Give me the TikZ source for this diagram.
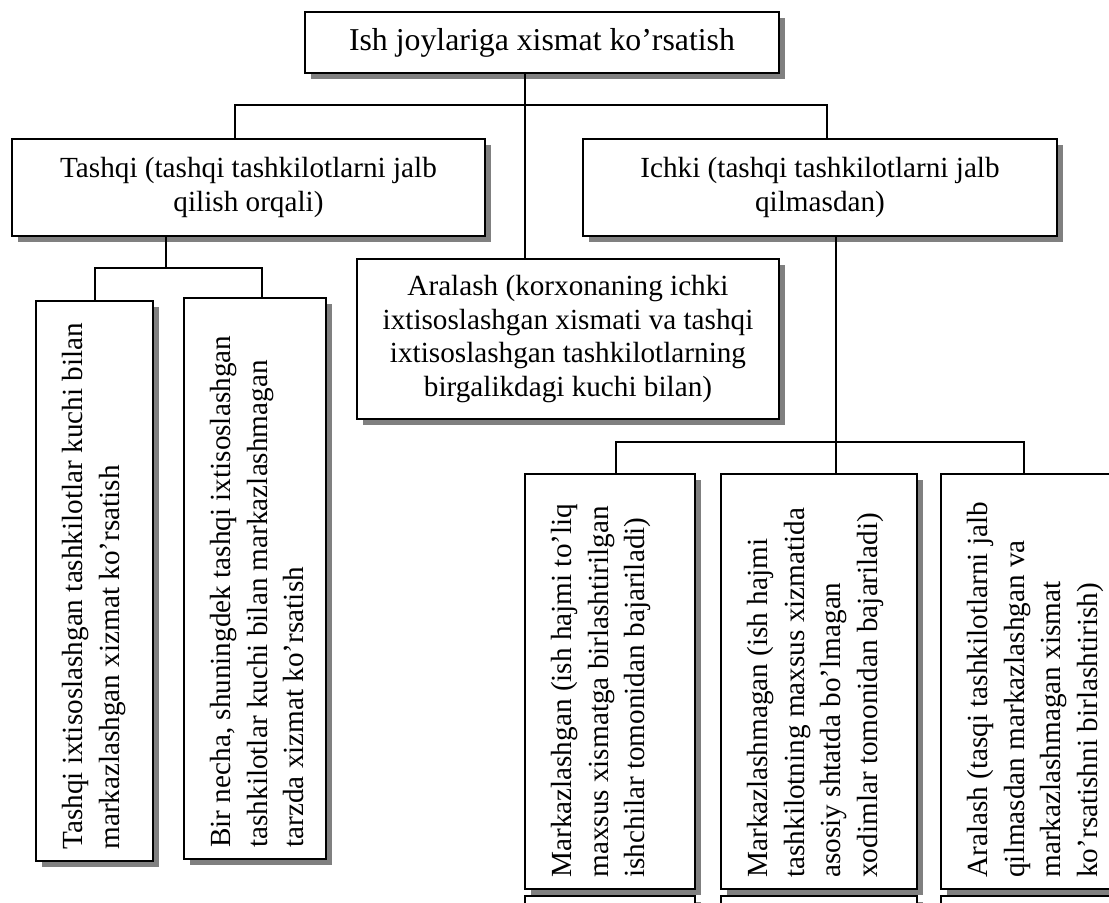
\documentclass[tikz,border=0pt]{standalone}
\usepackage{fontspec}
\setmainfont{Liberation Serif}
\usetikzlibrary{fit,shadows}

\newcommand\diagbody{\fontsize{14.6}{16.8}\selectfont}
\newcommand\diagvert{\fontsize{14.6}{18.3}\selectfont}
\newcommand\diagtitle{\fontsize{15.9}{18}\selectfont}

\tikzset{
  box/.style={draw=black, line width=1pt, fill=white, inner sep=0pt,
    drop shadow={shadow xshift=3pt, shadow yshift=-3pt, fill=black!50, opacity=1}},
  conn/.style={draw=black, line width=0.7pt},
  hlbl/.style={align=center, font=\diagbody, inner sep=0pt},
  % rotated labels: the shifts act in the rotated frame
  % (xshift runs up the page, negative yshift runs to the right)
  vlbl/.style={rotate=90, align=left, font=\diagvert, inner sep=0pt,
    anchor=north west, xshift=6pt, yshift=-13.5pt},
}

\begin{document}
\begin{tikzpicture}[x=0.5pt, y=-0.5pt]
  \useasboundingbox (0,0) rectangle (1109,902);
  \clip (0,0) rectangle (1109,902);

  % upper level boxes
  \node[box, fit={(305,12) (779,73)}] (top) {};
  \node[hlbl, font=\diagtitle] (toptxt) at (top.center) {Ish joylariga xismat ko’rsatish};

  \node[box, fit={(12,139) (485,236)}] (tash) {};
  \node[hlbl] (tashtxt) at (tash.center) {Tashqi (tashqi tashkilotlarni jalb\\qilish orqali)};

  \node[box, fit={(583,139) (1057,236)}] (ichki) {};
  \node[hlbl] (ichkitxt) at (ichki.center) {Ichki (tashqi tashkilotlarni jalb\\qilmasdan)};

  \node[box, fit={(357,259) (779,419)}] (aral) {};
  \node[hlbl] (araltxt) at (aral.center) {Aralash (korxonaning ichki\\ixtisoslashgan xismati va tashqi\\ixtisoslashgan tashkilotlarning\\birgalikdagi kuchi bilan)};

  % external service variants
  \node[box, fit={(36,301) (153,861)}] (ta) {};
  \node[vlbl] (tatxt) at (ta.south west) {Tashqi ixtisoslashgan tashkilotlar kuchi bilan\\markazlashgan xizmat ko’rsatish};

  \node[box, fit={(184,298) (326,859)}] (tb) {};
  \node[vlbl] (tbtxt) at (tb.south west) {Bir necha, shuningdek tashqi ixtisoslashgan\\tashkilotlar kuchi bilan markazlashmagan\\tarzda xizmat ko’rsatish};

  % internal service variants
  \node[box, fit={(525,474) (695,889)}] (ia) {};
  \node[vlbl] (iatxt) at (ia.south west) {Markazlashgan (ish hajmi to’liq\\maxsus xismatga birlashtirilgan\\ishchilar tomonidan bajariladi)};

  \node[box, fit={(721,474) (917,889)}] (ib) {};
  \node[vlbl] (ibtxt) at (ib.south west) {Markazlashmagan (ish hajmi\\tashkilotning maxsus xizmatida\\asosiy shtatda bo’lmagan\\xodimlar tomonidan bajariladi)};

  \node[box, fit={(941,474) (1140,889)}] (ic) {};
  \node[vlbl] (ictxt) at (ic.south west) {Aralash (tasqi tashkilotlarni jalb\\qilmasdan markazlashgan va\\markazlashmagan xismat\\ko’rsatishni birlashtirish)};

  % next row, continuing below the page edge
  \node[box, fit={(525,896) (695,1000)}] (na) {};
  \node[box, fit={(721,896) (917,1000)}] (nb) {};
  \node[box, fit={(941,896) (1140,1000)}] (nc) {};

  % connectors
  \coordinate (trunk) at (525,105);
  \coordinate (busL) at (235,105);
  \coordinate (busR) at (827,105);
  \draw[conn] (top.south -| trunk) -- (aral.north -| trunk);
  \draw[conn] (tash.north -| busL) -- (busL) -- (busR) -- (ichki.north -| busR);

  \coordinate (tdrop) at (166,268);
  \coordinate (tL) at (95,268);
  \coordinate (tR) at (262,268);
  \draw[conn] (tash.south -| tdrop) -- (tdrop);
  \draw[conn] (ta.north -| tL) -- (tL) -- (tR) -- (tb.north -| tR);

  \coordinate (idrop) at (836,442);
  \coordinate (iL) at (616,442);
  \coordinate (iR) at (1024,442);
  \draw[conn] (ichki.south -| idrop) -- (ib.north -| idrop);
  \draw[conn] (ia.north -| iL) -- (iL) -- (iR) -- (ic.north -| iR);
\end{tikzpicture}
\end{document}
